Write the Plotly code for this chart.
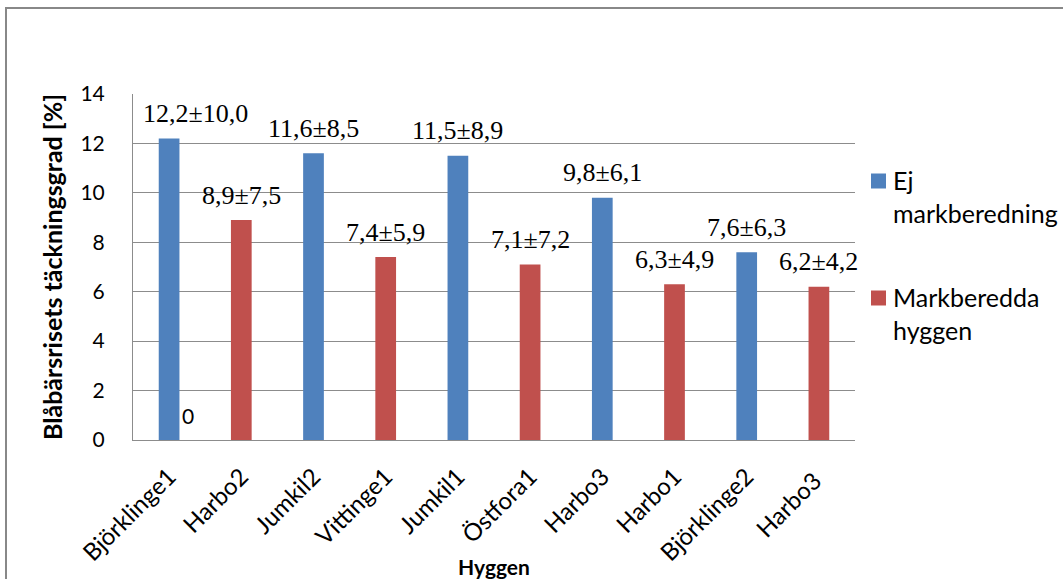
import plotly.graph_objects as go

categories = ["Björklinge1", "Harbo2", "Jumkil2", "Vittinge1", "Jumkil1",
              "Östfora1", "Harbo3", "Harbo1", "Björklinge2", "Harbo3 "]
ej_values = [12.2, None, 11.6, None, 11.5, None, 9.8, None, 7.6, None]
mb_values = [0, 8.9, None, 7.4, None, 7.1, None, 6.3, None, 6.2]
labels = ["12,2±10,0", "8,9±7,5", "11,6±8,5", "7,4±5,9", "11,5±8,9",
          "7,1±7,2", "9,8±6,1", "6,3±4,9", "7,6±6,3", "6,2±4,2"]
series_names = ["Ej<br>markberedning", "Markberedda<br>hyggen"]
y_ticks = [0, 2, 4, 6, 8, 10, 12, 14]

BLUE = "#4F81BD"
RED = "#C0504D"
GRID = "#8C8C8C"

W, H = 1063, 579
L, R, T, B = 133, 855, 94, 440


def px_x(p):
    return (p - L) / (R - L)


def px_y(p):
    return (B - p) / (B - T)


fig = go.Figure()
fig.add_trace(go.Bar(x=categories, y=ej_values, name=series_names[0],
                     marker=dict(color=BLUE, line=dict(width=0)), width=0.287))
fig.add_trace(go.Bar(x=categories, y=mb_values, name=series_names[1],
                     marker=dict(color=RED, line=dict(width=0)), width=0.287))

annotations = []
for i, (c, lab) in enumerate(zip(categories, labels)):
    v = ej_values[i] if ej_values[i] is not None else mb_values[i]
    annotations.append(dict(x=c, y=v, text=lab, showarrow=False, xref="x", yref="y",
                            yanchor="middle", yshift=25, xshift=26 if i == 0 else 0,
                            font=dict(family="Liberation Serif", size=26, color="#000")))
# zero label of the second series at the first category
annotations.append(dict(x=categories[0], y=mb_values[0], text="0", showarrow=False,
                        xref="x", yref="y", yanchor="middle", xshift=19, yshift=25,
                        font=dict(family="Lato", size=21, color="#000")))

# legend drawn by hand (keeps plot area fixed)
shapes = []
for name, color, cy in zip(series_names, [BLUE, RED], [181, 298]):
    shapes.append(dict(type="rect", xref="paper", yref="paper",
                       x0=px_x(871), x1=px_x(886), y0=px_y(cy + 7.5), y1=px_y(cy - 7.5),
                       fillcolor=color, line=dict(width=0)))
    annotations.append(dict(x=px_x(891), y=px_y(cy + 15), xref="paper", yref="paper",
                            text=name, showarrow=False, xanchor="left", yanchor="middle",
                            align="left",
                            font=dict(family="Lato", size=25, color="#000")))

shapes.append(dict(type="rect", xref="paper", yref="paper",
                   x0=px_x(6), x1=px_x(1080), y0=px_y(600), y1=px_y(8),
                   line=dict(color="#888888", width=2), fillcolor="rgba(0,0,0,0)",
                   layer="below"))

fig.update_layout(
    width=W, height=H,
    margin=dict(l=L, r=W - R, t=T, b=H - B, pad=0, autoexpand=False),
    paper_bgcolor="white", plot_bgcolor="white",
    barmode="overlay",
    font=dict(family="Lato", size=21, color="#000"),
    showlegend=False,
    xaxis=dict(type="category", tickangle=-45, showgrid=False, showline=True,
               linecolor=GRID, linewidth=1, ticks="", tickfont=dict(family="Lato", size=24),
               ticklabelstandoff=12, automargin=False,
               title=dict(text="<b>Hyggen</b>", font=dict(family="Lato", size=21), standoff=0),
               range=[-0.5, 9.5]),
    yaxis=dict(range=[0, 14], tickvals=y_ticks, showgrid=True, gridcolor=GRID, gridwidth=1,
               showline=True, linecolor=GRID, linewidth=1, ticks="", zeroline=False,
               tickfont=dict(family="Lato", size=21), ticklabelstandoff=23, automargin=False,
               title=dict(text="<b>Blåbärsrisets täckningsgrad [%]</b>",
                          font=dict(family="Lato", size=25), standoff=10)),
    annotations=annotations,
    shapes=shapes,
)

fig.write_html("out.html", config={"displayModeBar": False},
               post_script="document.body.style.margin='0px';")
